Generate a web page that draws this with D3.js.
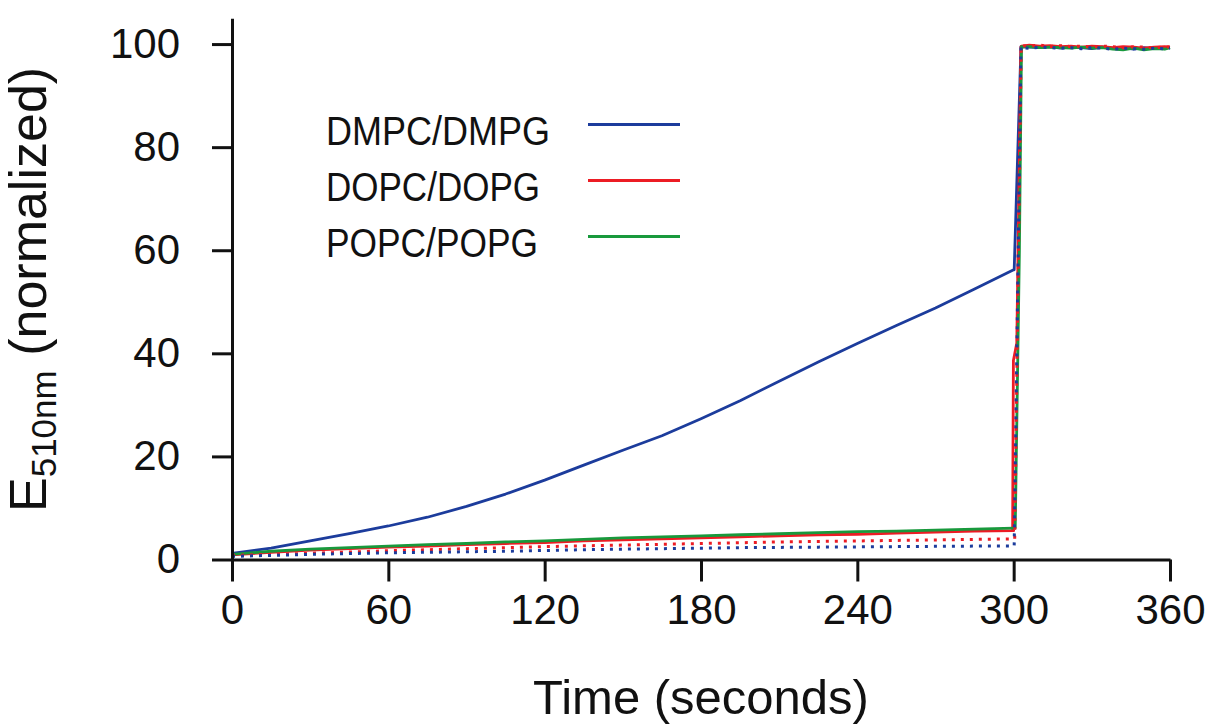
<!DOCTYPE html>
<html>
<head>
<meta charset="utf-8">
<script src="https://cdn.jsdelivr.net/npm/d3@7"></script>
<style>
  html, body { margin: 0; padding: 0; background: #fff; }
  svg { display: block; }
  text { font-family: "Liberation Sans", Arial, Helvetica, sans-serif; fill: #111; }
</style>
</head>
<body>
<svg id="chart" width="1216" height="728"></svg>
<script>
// Time grid (s) for the slow phase before detergent addition
const tSlow = [0, 15, 30, 45, 60, 75, 90, 105, 120, 135, 150, 165, 180, 195, 210, 225, 240, 255, 270, 285, 300];

// Normalized emission at 510 nm, slow phase
const dmpcSolid = [1.2, 2.2, 3.6, 5.0, 6.5, 8.2, 10.3, 12.7, 15.4, 18.3, 21.2, 24.0, 27.3, 30.8, 34.6, 38.3, 41.9, 45.4, 48.8, 52.5, 56.2];
const dopcSolid = [0.9, 1.4, 1.8, 2.1, 2.4, 2.6, 2.9, 3.1, 3.3, 3.6, 3.8, 4.0, 4.2, 4.4, 4.6, 4.8, 4.9, 5.1, 5.3, 5.5, 5.6];
const popcSolid = [1.0, 1.6, 2.0, 2.3, 2.6, 2.9, 3.1, 3.4, 3.6, 3.9, 4.2, 4.4, 4.6, 4.8, 5.0, 5.2, 5.4, 5.5, 5.7, 5.9, 6.1];
const dmpcDotted = [0.6, 0.8, 1.0, 1.15, 1.3, 1.4, 1.5, 1.6, 1.75, 1.9, 2.0, 2.1, 2.2, 2.3, 2.35, 2.4, 2.45, 2.5, 2.55, 2.6, 2.6];
const dopcDotted = [0.8, 1.0, 1.2, 1.45, 1.7, 1.9, 2.1, 2.3, 2.5, 2.65, 2.8, 2.95, 3.1, 3.25, 3.4, 3.5, 3.6, 3.7, 3.8, 3.9, 4.0];

// Rise after detergent addition: [time, value] pairs
const dmpcSolidRise = [[300.2, 56.2], [302.8, 99.5]];
const dopcSolidRise = [[299.6, 5.6], [299.9, 38.6], [301.2, 42.0], [302.8, 99.5]];
const popcSolidRise = [[300.6, 6.1], [302.2, 60.0], [303.0, 99.5]];
const dmpcDottedRise = [[300.2, 2.6], [302.8, 99.5]];
const dopcDottedRise = [[300.4, 4.0], [302.9, 99.5]];

// Plateau after complete lysis
const tPlateau = [303, 306, 310, 314, 318, 322, 326, 330, 334, 338, 342, 346, 350, 354, 358, 360];
const dmpcPlateau = [99.5, 99.4, 99.3, 99.5, 99.2, 99.4, 99.3, 99.1, 99.4, 99.2, 99.3, 99.0, 99.3, 99.1, 99.2, 99.3];
const dopcPlateau = [99.6, 99.8, 99.6, 99.7, 99.5, 99.6, 99.4, 99.6, 99.5, 99.3, 99.5, 99.4, 99.2, 99.4, 99.5, 99.4];
const popcPlateau = [99.4, 99.5, 99.3, 99.4, 99.3, 99.2, 99.4, 99.2, 99.3, 99.0, 98.9, 99.2, 98.9, 99.1, 99.0, 99.3];
const dmpcDotPlateau = [99.3, 99.2, 99.4, 99.3, 99.2, 99.3, 99.1, 99.3, 99.2, 99.0, 99.2, 99.1, 99.0, 99.2, 99.1, 99.2];
const dopcDotPlateau = [99.7, 99.6, 99.8, 99.5, 99.7, 99.5, 99.6, 99.4, 99.6, 99.5, 99.3, 99.5, 99.4, 99.3, 99.4, 99.5];

// Axis ticks
const xTicks = [0, 60, 120, 180, 240, 300, 360];
const yTicks = [0, 20, 40, 60, 80, 100];

// Legend
const legendLabels = ["DMPC/DMPG", "DOPC/DOPG", "POPC/POPG"];
const legendColors = ["#1c3c9c", "#ec1c24", "#18993c"];

const svg = d3.select("#chart");

const x = d3.scaleLinear().domain([0, 360]).range([232, 1170]);
const y = d3.scaleLinear().domain([0, 105]).range([559.5, 18.3]);

function series(t, v, rise, tp, vp) {
  const pts = t.map((ti, i) => [ti, v[i]]);
  return pts.concat(rise, tp.map((ti, i) => [ti, vp[i]]));
}

const line = d3.line().x(d => x(d[0])).y(d => y(d[1]));

const traces = [
  { pts: series(tSlow, dmpcSolid, dmpcSolidRise, tPlateau, dmpcPlateau), color: legendColors[0], dash: null },
  { pts: series(tSlow, dopcSolid, dopcSolidRise, tPlateau, dopcPlateau), color: legendColors[1], dash: null },
  { pts: series(tSlow, popcSolid, popcSolidRise, tPlateau, popcPlateau), color: legendColors[2], dash: null },
  { pts: series(tSlow, dopcDotted, dopcDottedRise, tPlateau, dopcDotPlateau), color: legendColors[1], dash: "3,6" },
  { pts: series(tSlow, dmpcDotted, dmpcDottedRise, tPlateau, dmpcDotPlateau), color: legendColors[0], dash: "3,6" }
];

svg.append("g").selectAll("path")
  .data(traces)
  .join("path")
  .attr("d", d => line.curve(d3.curveLinear)(d.pts))
  .attr("fill", "none")
  .attr("stroke", d => d.color)
  .attr("stroke-width", d => d.dash ? 3 : 2.8)
  .attr("stroke-dasharray", d => d.dash)
  .attr("stroke-linejoin", "round");

// Axes
const yAxis = svg.append("g")
  .attr("transform", `translate(${x(0)},0)`)
  .call(d3.axisLeft(y).tickValues(yTicks).tickSize(20).tickSizeOuter(0).tickPadding(32));

const xAxis = svg.append("g")
  .attr("transform", `translate(0,${y(0)})`)
  .call(d3.axisBottom(x).tickValues(xTicks).tickSize(22).tickSizeOuter(0).tickPadding(12));

[yAxis, xAxis].forEach(g => {
  g.select(".domain").attr("stroke", "#111").attr("stroke-width", 3);
  g.selectAll(".tick line").attr("stroke", "#111").attr("stroke-width", 3);
  g.selectAll(".tick text")
    .attr("font-size", 42)
    .attr("font-family", "'Liberation Sans', Arial, Helvetica, sans-serif")
    .attr("fill", "#111");
});
xAxis.selectAll(".tick text").attr("dy", "0.72em");

// Axis titles
svg.append("text")
  .attr("x", 701)
  .attr("y", 714)
  .attr("text-anchor", "middle")
  .attr("font-size", 49)
  .text("Time (seconds)");

const yTitle = svg.append("text")
  .attr("transform", "translate(46,512) rotate(-90)")
  .attr("text-anchor", "start")
  .attr("font-size", 52);
yTitle.append("tspan").text("E");
yTitle.append("tspan").attr("font-size", 35).attr("dy", 10).text("510nm");
yTitle.append("tspan").attr("dy", -10).text(" (normalized)");

// Legend
const legend = svg.append("g");
const rowBaseline = [145, 201, 257];
const rowLine = [124.5, 180.5, 236.5];
legend.selectAll("text")
  .data(legendLabels)
  .join("text")
  .attr("x", 326)
  .attr("y", (d, i) => rowBaseline[i])
  .attr("font-size", 41)
  .attr("textLength", (d, i) => [224, 214, 212][i])
  .attr("lengthAdjust", "spacingAndGlyphs")
  .text(d => d);
legend.selectAll("line")
  .data(legendColors)
  .join("line")
  .attr("x1", 588)
  .attr("x2", 680)
  .attr("y1", (d, i) => rowLine[i])
  .attr("y2", (d, i) => rowLine[i])
  .attr("stroke", d => d)
  .attr("stroke-width", 3);
</script>
</body>
</html>
